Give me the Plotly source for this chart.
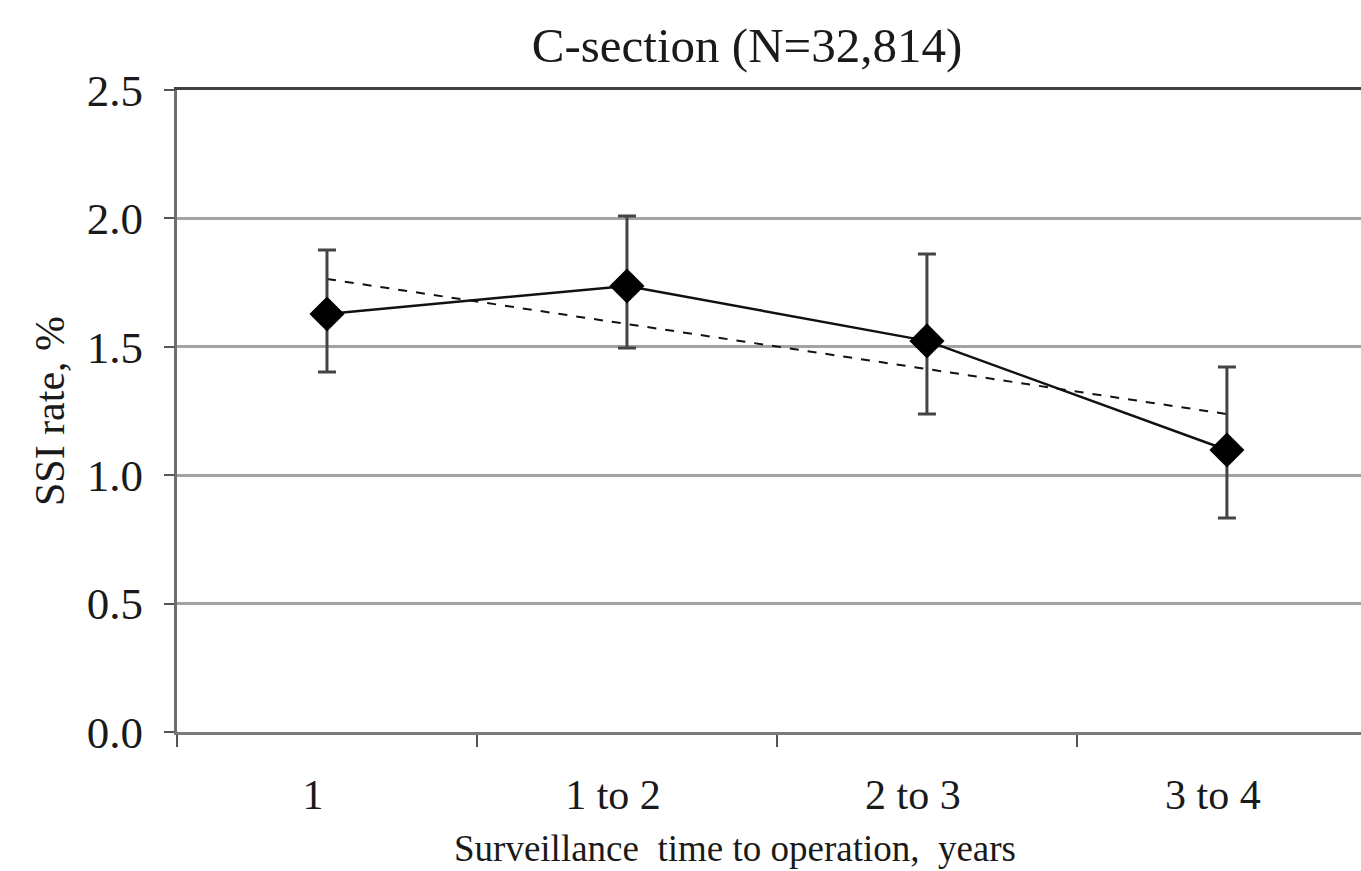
import plotly.graph_objects as go

categories = ["1", "1 to 2", "2 to 3", "3 to 4"]
ssi_rate = [1.628, 1.737, 1.523, 1.098]
ci_upper = [1.877, 2.009, 1.861, 1.421]
ci_lower = [1.402, 1.495, 1.238, 0.833]
trend = [1.764, 1.589, 1.413, 1.238]
y_ticks = [0.0, 0.5, 1.0, 1.5, 2.0, 2.5]

FONT = "Liberation Serif"

err_plus = [u - v for u, v in zip(ci_upper, ssi_rate)]
err_minus = [v - l for v, l in zip(ssi_rate, ci_lower)]

fig = go.Figure()
fig.add_trace(go.Scatter(
    x=categories, y=trend, mode="lines",
    line=dict(color="#111111", width=2, dash="dash"),
    showlegend=False, hoverinfo="skip",
))
fig.add_trace(go.Scatter(
    x=categories, y=ssi_rate, mode="lines+markers",
    line=dict(color="#111111", width=2.5),
    marker=dict(symbol="diamond", size=27, color="black"),
    error_y=dict(type="data", symmetric=False, array=err_plus, arrayminus=err_minus,
                 color="#444444", thickness=3, width=9),
    showlegend=False,
))
# invisible trace on top axis to draw the top border
fig.add_trace(go.Scatter(x=categories, y=ssi_rate, xaxis="x2", mode="lines",
                         line=dict(width=0), opacity=0, showlegend=False, hoverinfo="skip"))

plot_left, plot_right = 177, 1361
fig.update_layout(
    width=1361, height=871,
    margin=dict(l=plot_left, r=0, t=90, b=139),
    paper_bgcolor="white", plot_bgcolor="white",
    font=dict(family=FONT, color="#1a1a1a"),
    title=dict(text="C-section (N=32,814)", x=747 / 1361, xref="container", xanchor="center",
               y=1 - 45 / 871, yref="container", yanchor="middle",
               font=dict(family=FONT, size=49, color="#1a1a1a")),
    xaxis=dict(
        type="category", range=[-0.5, 3.447],
        tickson="boundaries", ticks="outside", ticklen=12, tickwidth=2, tickcolor="#555555",
        showline=True, linecolor="#7a7a7a", linewidth=3,
        showgrid=False, zeroline=False,
        tickfont=dict(family=FONT, size=42, color="#1a1a1a"),
        ticklabelshift=-14, ticklabelstandoff=24,
    ),
    xaxis2=dict(
        type="category", range=[-0.5, 3.447], overlaying="x", side="top",
        showline=True, linecolor="#404040", linewidth=3,
        showticklabels=False, ticks="", showgrid=False, zeroline=False,
    ),
    yaxis=dict(
        range=[0, 2.5], tickvals=y_ticks, tickformat=".1f",
        ticks="outside", ticklen=10, tickwidth=2, tickcolor="#555555",
        showline=True, linecolor="#6e6e6e", linewidth=3,
        showgrid=True, gridcolor="#a3a3a3", gridwidth=2.5, zeroline=False,
        tickfont=dict(family=FONT, size=45, color="#1a1a1a"),
        ticklabelstandoff=12,
        title=dict(text="SSI rate, %", font=dict(family=FONT, size=42, color="#1a1a1a"), standoff=10),
    ),
    annotations=[dict(
        text="Surveillance&nbsp;&nbsp;time to operation,&nbsp;&nbsp;years",
        xref="paper", yref="paper",
        x=(735 - plot_left) / (plot_right - plot_left), xanchor="center",
        y=-(848 - 732) / (732 - 90), yanchor="middle",
        showarrow=False, font=dict(family=FONT, size=37, color="#1a1a1a"),
    )],
)

fig.write_html("out.html")
